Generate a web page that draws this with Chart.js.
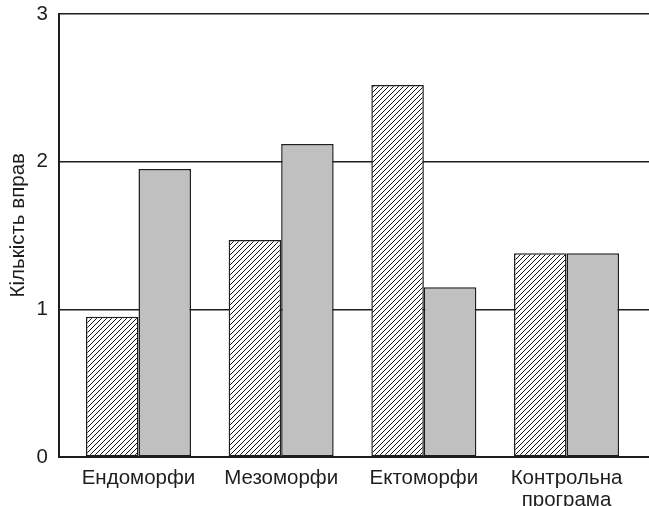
<!DOCTYPE html>
<html lang="uk">
<head>
  <meta charset="UTF-8" />
  <title>Кількість вправ</title>
  <script src="https://cdn.jsdelivr.net/npm/chart.js"></script>
  <style>
    html, body { margin: 0; padding: 0; background: #fff; }
    #wrap { width: 649px; height: 506px; }
  </style>
</head>
<body>
  <div id="wrap"><canvas id="chart" width="649" height="506"></canvas></div>

  <script>
    const categories = ['Ендоморфи', 'Мезоморфи', 'Ектоморфи', ['Контрольна', 'програма']];
    const hatchedValues = [0.95, 1.47, 2.52, 1.38];
    const grayValues = [1.95, 2.12, 1.15, 1.38];
    const yTicks = [0, 1, 2, 3];

    const ink = '#1e1e1e';

    // diagonal hatch fill
    function makeHatch() {
      const c = document.createElement('canvas');
      c.width = 5; c.height = 5;
      const g = c.getContext('2d');
      g.fillStyle = '#fff';
      g.fillRect(0, 0, 5, 5);
      g.strokeStyle = '#111';
      g.lineWidth = 1;
      g.beginPath();
      g.moveTo(-1, 6); g.lineTo(6, -1);
      g.moveTo(-1, 1); g.lineTo(1, -1);
      g.moveTo(4, 6); g.lineTo(6, 4);
      g.stroke();
      return g.createPattern(c, 'repeat');
    }
    const hatch = makeHatch();

    const toPoints = vals => vals.map((v, i) => ({ x: i, y: v }));

    Chart.defaults.font.family = '"Liberation Sans", Arial, sans-serif';
    Chart.defaults.color = ink;

    new Chart(document.getElementById('chart'), {
      type: 'bar',
      data: {
        datasets: [
          {
            data: toPoints(hatchedValues),
            backgroundColor: hatch,
            borderColor: ink,
            borderWidth: 1.5,
            borderSkipped: false
          },
          {
            data: toPoints(grayValues),
            backgroundColor: '#c0c0c0',
            borderColor: ink,
            borderWidth: 1.5,
            borderSkipped: false
          }
        ]
      },
      options: {
        responsive: false,
        animation: false,
        layout: { padding: { top: 14, right: 0, left: 0, bottom: 0 } },
        plugins: { legend: { display: false }, tooltip: { enabled: false } },
        datasets: { bar: { categoryPercentage: 0.736, barPercentage: 1 } },
        scales: {
          x: {
            type: 'linear',
            offset: false,
            min: -0.557,
            max: 3.578,
            afterBuildTicks: s => { s.ticks = categories.map((c, i) => ({ value: i })); },
            afterFit: s => { s.height = 49; s.paddingLeft = 0; s.paddingRight = 0; },
            grid: { display: false, drawTicks: false },
            border: { display: true, color: ink, width: 2 },
            ticks: {
              padding: 10,
              maxRotation: 0,
              autoSkip: false,
              font: { size: 20.5, lineHeight: 1.09 },
              callback: v => categories[v]
            }
          },
          y: {
            min: 0,
            max: 3,
            afterBuildTicks: s => { s.ticks = yTicks.map(v => ({ value: v })); },
            afterFit: s => { s.width = 59; s.paddingTop = 0; s.paddingBottom = 0; },
            grid: { color: ink, lineWidth: 1.5, drawTicks: false },
            border: { display: true, color: ink, width: 2 },
            ticks: { padding: 11, font: { size: 20.5 } },
            title: {
              display: true,
              text: '\u2003Кількість вправ',
              font: { size: 20.5 },
              padding: { top: 6, bottom: 0 }
            }
          }
        }
      }
    });
  </script>
</body>
</html>
